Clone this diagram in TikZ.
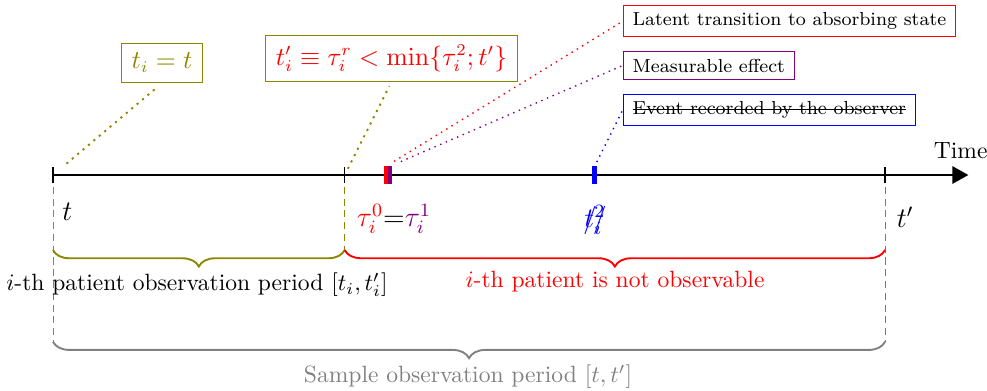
\documentclass[tikz,border=0pt]{standalone}
\usepackage{amsmath,amssymb}
\usepackage{xcolor}
\usepackage{tikz}
\usetikzlibrary{arrows.meta,positioning,decorations.pathreplacing,calc}
\newlength\strikelen
\newcommand{\strikeout}[1]{\settowidth{\strikelen}{#1}\rlap{\rule[0.55ex]{\strikelen}{0.4pt}}#1}
\newcommand{\slashout}[1]{\settowidth{\strikelen}{#1}\rlap{\hbox to \strikelen{\xleaders\hbox{\kern-.1em/\kern-.1em}\hfil}}#1}
\tikzset{
  timeaxis/.style={-{Triangle[length=2.4mm,width=2.6mm]}, thick},
  tickmark/.style={semithick},
  markbar/.style={line width=1.9pt},
  guideline/.style={dashed, dash pattern=on 3pt off 2pt},
  callout/.style={thick, dash pattern=on 0.9pt off 2.1pt},
  thincallout/.style={semithick, dash pattern=on 0.6pt off 2pt},
  periodbrace/.style={decorate, decoration={brace, mirror, amplitude=7pt}, thick},
  notebox/.style={draw, font=\footnotesize, inner xsep=4pt, inner ysep=3pt, anchor=west},
  mathbox/.style={draw=olive, font=\fontsize{10.7}{13}\selectfont, inner sep=4.2pt}
}

\begin{document}
\begin{tikzpicture}[scale=0.964]
\useasboundingbox (-0.820,-3.328) rectangle (14.458,2.709);
% points on the time axis
\coordinate (tstart) at (0,0);
\coordinate (tobs) at (4.516,0);
\coordinate (tend) at (12.88,0);
\coordinate (axisend) at (14.17,0);
\coordinate (latent) at (5.155,0);
\coordinate (effect) at (5.217,0);
\coordinate (event) at (8.385,0);
\coordinate (latenttop) at (5.155,0.135);
\coordinate (effecttop) at (5.217,0.135);
\coordinate (eventtop) at (8.385,0.135);

\draw[gray, guideline] (tstart) -- ++(0,-2.58);
\draw[olive, guideline] (tobs) -- ++(0,-1.161);
\draw[olive, guideline] (tend) -- ++(0,-2.58);

\draw[timeaxis] (tstart) -- (axisend);
\node (timelabel) at (14.05,0.37) {Time};
\foreach \c in {tstart,tobs,tend}
  \draw[tickmark] ($(\c)+(0,0.124)$) -- ($(\c)+(0,-0.124)$);

\draw[markbar, red] (latenttop) -- ($(latent)+(0,-0.135)$);
\draw[markbar, violet] (effecttop) -- ($(effect)+(0,-0.135)$);
\draw[markbar, blue] (eventtop) -- ($(event)+(0,-0.135)$);

% labels under the axis
\node[font=\large] (tlabel) at (0.224,-0.573) {$t$};
\node[font=\large] (tendlabel) at (13.19,-0.65) {$t'$};
\node[font=\large] (taulabel) at (5.279,-0.676) {\textcolor{red}{$\tau_i^0$}=\textcolor{violet}{$\tau_i^1$}};
\node[font=\large, text=blue] (eventlabel) at (8.39,-0.70) {\slashout{$t_i^2$}};

% boxes above the axis
\node[mathbox, text=olive] (tibox) at (1.687,1.734) {$t_i=t$};
\node[mathbox, text=red] (tprimebox) at (5.240,1.806) {$t'_i\equiv\tau_i^r<\min\{\tau_i^2;t'\}$};
\node[notebox, draw=red] (latentbox) at (8.819,2.38) {Latent transition to absorbing state};
\node[notebox, draw=violet] (effectbox) at (8.819,1.695) {Measurable effect};
\node[notebox, draw=blue] (eventbox) at (8.819,1.006) {\strikeout{Event recorded by the observer}};

\draw[callout, olive, shorten <=7.5pt, shorten >=4pt] (tstart) -- (tibox.south);
\draw[callout, olive, shorten <=3pt, shorten >=2pt] (tobs) -- (tprimebox.south);
\draw[thincallout, red, shorten <=4pt] (latenttop) -- (latentbox.west);
\draw[thincallout, violet, shorten <=5pt] (effecttop) -- (effectbox.west);
\draw[thincallout, blue, shorten <=2pt] (eventtop) -- (eventbox.west);

% observation periods
\draw[periodbrace, olive] ($(tstart)+(0,-1.161)$) -- ($(tobs)+(0,-1.161)$);
\draw[periodbrace, red] ($(tobs)+(0,-1.161)$) -- ($(tend)+(0,-1.161)$);
\draw[periodbrace, gray] ($(tstart)+(0,-2.58)$) -- ($(tend)+(0,-2.58)$);
\node (obslabel) at (2.229,-1.703) {$i$-th patient observation period $[t_i,t'_i]$};
\node[text=red] (hiddenlabel) at (8.70,-1.656) {$i$-th patient is not observable};
\node[text=gray] (samplelabel) at (6.424,-3.127) {Sample observation period $[t,t']$};
\end{tikzpicture}
\end{document}
